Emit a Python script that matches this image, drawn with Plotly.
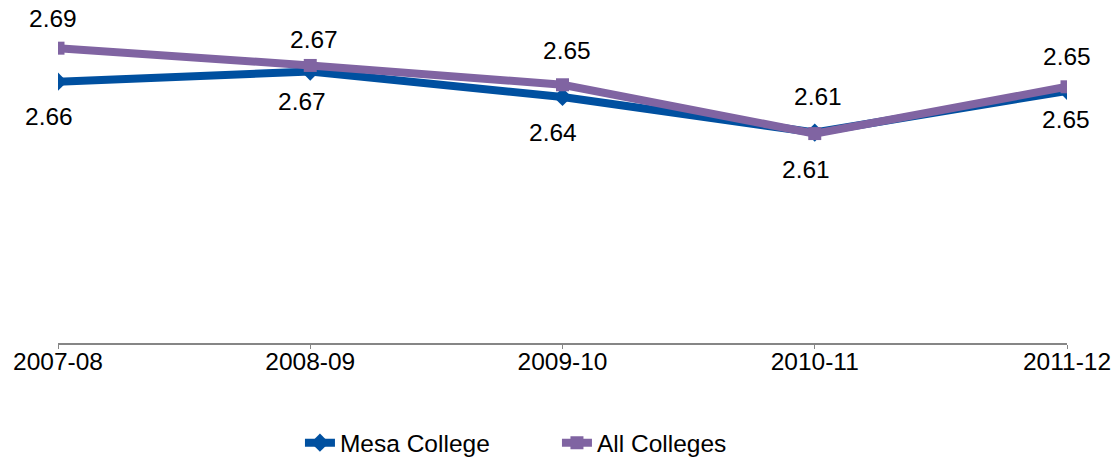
import plotly.graph_objects as go

categories = ["2007-08", "2008-09", "2009-10", "2010-11", "2011-12"]
mesa_college = [2.657, 2.667, 2.642, 2.607, 2.648]
all_colleges = [2.690, 2.673, 2.654, 2.606, 2.652]

FONT = "Liberation Sans, Arial, sans-serif"
FS = 24.5
MESA_COLOR = "#0050A0"
ALL_COLOR = "#8064A2"

# data-label offsets (px) relative to each point
mesa_dx = [-9, -8, -10, -9, -1]
mesa_dy = [-35, -30, -36, -37, -29]
all_dx = [-5, 4, 4, 3, 0]
all_dy = [30, 26, 34, 37, 30]

fig = go.Figure()
fig.add_trace(go.Scatter(
    x=categories, y=mesa_college, name="Mesa College",
    mode="lines+markers",
    line=dict(color=MESA_COLOR, width=8),
    marker=dict(symbol="diamond", size=14, color=MESA_COLOR),
))
fig.add_trace(go.Scatter(
    x=categories, y=all_colleges, name="All Colleges",
    mode="lines+markers",
    line=dict(color=ALL_COLOR, width=8),
    marker=dict(symbol="square", size=13, color=ALL_COLOR),
))

annotations = []
for c, v, dx, dy in zip(categories, mesa_college, mesa_dx, mesa_dy):
    annotations.append(dict(x=c, y=v, text=f"{v:.2f}", showarrow=False,
                            xshift=dx, yshift=dy,
                            font=dict(family=FONT, size=FS, color="#000000")))
for c, v, dx, dy in zip(categories, all_colleges, all_dx, all_dy):
    annotations.append(dict(x=c, y=v, text=f"{v:.2f}", showarrow=False,
                            xshift=dx, yshift=dy,
                            font=dict(family=FONT, size=FS, color="#000000")))

fig.update_layout(
    width=1115, height=461,
    margin=dict(l=58, r=48, t=38, b=118, autoexpand=False),
    paper_bgcolor="white", plot_bgcolor="white",
    font=dict(family=FONT, size=FS, color="#000000"),
    showlegend=True,
    legend=dict(orientation="h", x=0.2398, xanchor="left", y=-0.327, yanchor="middle",
                font=dict(family=FONT, size=FS, color="#000000"),
                entrywidth=212, itemsizing="trace"),
    annotations=annotations,
)
fig.update_xaxes(
    type="category", range=[0, 4], automargin=False,
    showline=True, linecolor="#868686", linewidth=2,
    ticks="outside", ticklen=4, tickcolor="#868686", tickwidth=1,
    ticklabelstandoff=-8,
    showgrid=False, zeroline=False,
    tickfont=dict(family=FONT, size=FS, color="#000000"),
)
fig.update_yaxes(
    range=[2.4, 2.7], visible=False, showgrid=False, zeroline=False, automargin=False,
)

fig.write_html("out.html", config={"displayModeBar": False},
               post_script="document.body.style.margin='0';")
